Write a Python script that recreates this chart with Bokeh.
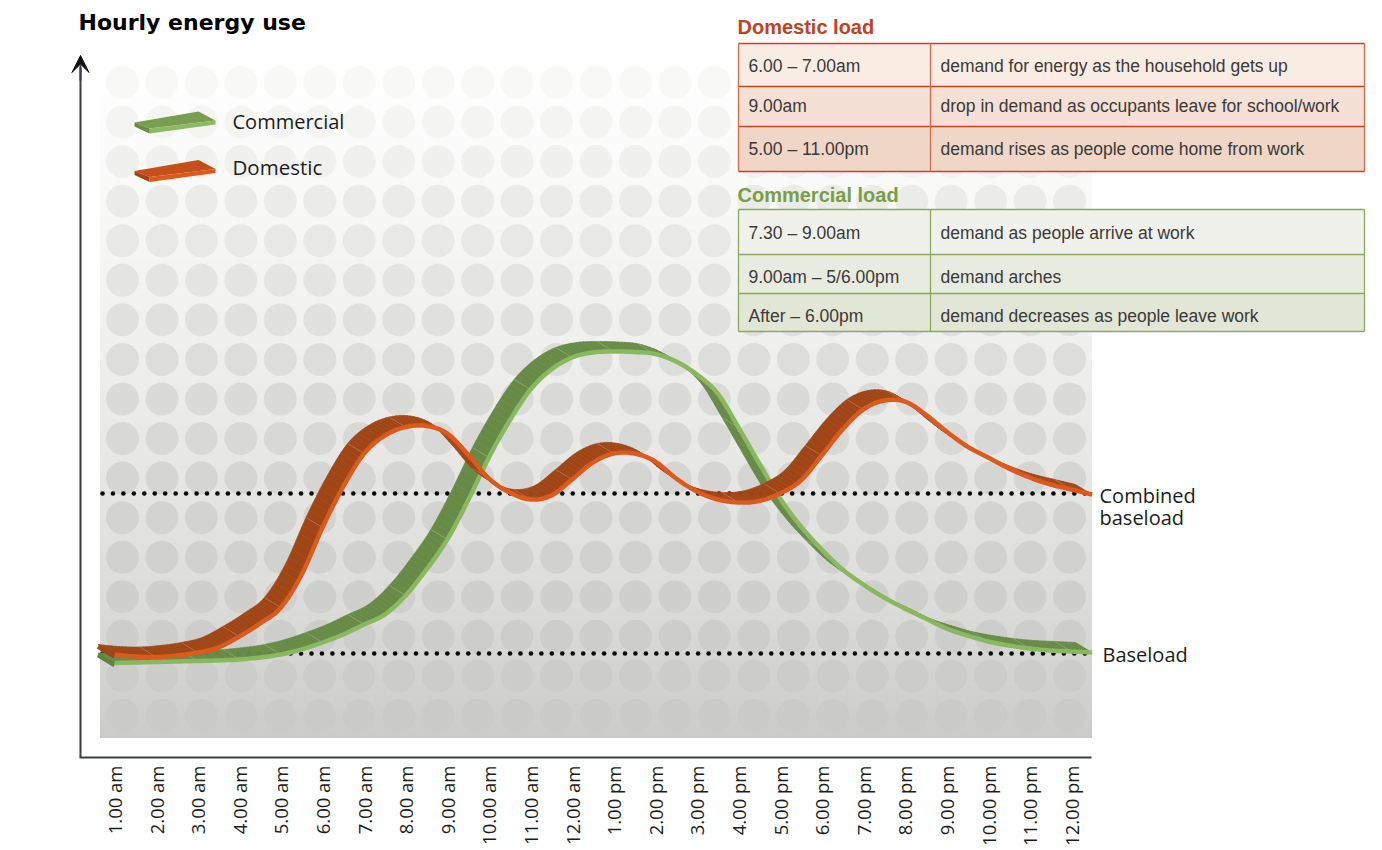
import numpy as np
from bokeh.embed import file_html
from bokeh.models import Arrow, FixedTicker, Label, LinearAxis, Range1d, VeeHead
from bokeh.plotting import figure
from bokeh.resources import INLINE

# Half-hourly samples from 1.00 am through the tail of the day
hours = [1 + 0.5 * i for i in range(48)]
domestic = [103, 101, 100.5, 102, 105, 110, 121, 134, 150, 183,
            230, 271, 304, 322, 330.5, 331.5, 324, 303, 279, 265,
            258, 262, 278, 295, 304, 304, 296, 279, 266, 258,
            255, 256.5, 264, 277, 302, 328, 348, 357, 356, 343,
            326, 311, 300, 289, 280, 273, 268, 263]
commercial = [94.5, 95, 95.5, 96, 96.5, 97, 98, 100, 103, 108,
              115, 123, 133, 143, 162, 188, 218, 257, 300, 337,
              368, 388, 400, 405, 406, 405.5, 403.5, 396, 383, 364,
              330, 294, 259, 231, 208, 188, 173, 160, 149, 139,
              129, 122, 116, 112, 109, 107, 106, 105]
combined_baseload = 264
baseload = 104

tick_hours = list(range(1, 25))
tick_labels = [f"{h}.00 am" for h in range(1, 13)] + [f"{h}.00 pm" for h in range(1, 13)]

domestic_rows = [("6.00 – 7.00am", "demand for energy as the household gets up"),
                 ("9.00am", "drop in demand as occupants leave for school/work"),
                 ("5.00 – 11.00pm", "demand rises as people come home from work")]
commercial_rows = [("7.30 – 9.00am", "demand as people arrive at work"),
                   ("9.00am – 5/6.00pm", "demand arches"),
                   ("After – 6.00pm", "demand decreases as people leave work")]

# Page-pixel helpers for the layout furniture (axis origin at 80, 757)
HOUR_PX = 41.6
X = lambda px: 1 + (np.asarray(px, dtype=float) - 114) / HOUR_PX
Y = lambda py: 757 - np.asarray(py, dtype=float)

p = figure(width=1382, height=850, output_backend="svg", toolbar_location=None,
           x_range=Range1d(float(X(70)), float(X(1382))), y_range=Range1d(0, 757),
           x_axis_type=None, y_axis_type=None,
           min_border_left=70, min_border_bottom=93, min_border_top=0, min_border_right=0)
p.grid.visible = False
p.outline_line_color = None
p.background_fill_color = "white"
p.border_fill_color = "white"

# Axes
x_axis = LinearAxis(ticker=FixedTicker(ticks=tick_hours),
                    major_label_overrides={h: t for h, t in zip(tick_hours, tick_labels)},
                    major_label_orientation=np.pi / 2, major_label_standoff=2,
                    major_label_text_font="Open Sans", major_label_text_font_size="18.5px",
                    major_label_text_color="#1c1c1c",
                    major_tick_line_color=None, minor_tick_line_color=None,
                    axis_line_color="#3a3d42", axis_line_width=2,
                    bounds=(float(X(79)), float(X(1091))))
p.add_layout(x_axis, "below")
y_axis = LinearAxis(ticker=FixedTicker(ticks=[]), fixed_location=float(X(80)),
                    major_tick_line_color=None, minor_tick_line_color=None,
                    major_label_text_font_size="0px",
                    axis_line_color="#3a3d42", axis_line_width=2, bounds=(0, 690))
p.add_layout(y_axis, "left")
p.add_layout(Label(x=float(X(44)), y=float(Y(408)), text="Energy Demand (kWh)", angle=np.pi / 2,
                   text_font="Open Sans", text_font_size="30px", text_color="#1c1c1c",
                   text_align="center", text_baseline="middle"))
p.add_layout(Arrow(x_start=float(X(80)), y_start=float(Y(80)), x_end=float(X(80)), y_end=float(Y(55)),
                   line_color="#3a3d42", line_width=2,
                   end=VeeHead(size=17, fill_color="#111111", line_color="#111111", line_width=1)))

# Shaded backdrop: stacked bands fading from white to grey
stop_py = [70, 210, 340, 500, 600, 690, 737]
stop_bg = [255, 248, 240, 228, 220, 209, 203]
stop_dot = [250, 235, 223, 212, 207, 204, 201]
grey = lambda v: "#%02x%02x%02x" % (int(v), int(v), int(v) - 1 if v < 250 else int(v))
band_top = np.arange(70, 737, 5)
p.quad(left=float(X(100)), right=float(X(1091)), top=Y(band_top), bottom=float(Y(737)),
       fill_color=[grey(np.interp(t, stop_py, stop_bg)) for t in band_top], line_color=None)
dot_x, dot_y = np.meshgrid(122 + 39.46 * np.arange(25), 82 + 39.56 * np.arange(17))
p.scatter(X(dot_x.ravel()), Y(dot_y.ravel()), marker="circle", size=33,
          fill_color=[grey(np.interp(t, stop_py, stop_dot)) for t in dot_y.ravel()], line_color=None)

# Baseload reference rows of dots
dots = X(np.arange(102, 1090, 10.45))
for level in (combined_baseload, baseload):
    p.scatter(dots, level, marker="circle", size=4.6, fill_color="#080808", line_color=None)

# Ribbon series: the top face is the curve swept back along a fixed depth vector
DEPTH_X, DEPTH_Y = -16.5 / HOUR_PX, 10.0
SUBSTEPS = 6


def smooth_path(xs, ys):
    """Catmull-Rom path through the samples, flattened for drawing; it passes through every sample."""
    pts = np.column_stack([xs, ys])
    pad = np.vstack([pts[0], pts, pts[-1]])
    out = []
    for i in range(1, len(pad) - 2):
        p0, p1, p2, p3 = pad[i - 1], pad[i], pad[i + 1], pad[i + 2]
        for t in np.arange(SUBSTEPS) / SUBSTEPS:
            out.append(0.5 * (2 * p1 + (p2 - p0) * t + (2 * p0 - 5 * p1 + 4 * p2 - p3) * t ** 2
                              + (3 * p1 - p0 - 3 * p2 + p3) * t ** 3))
    out.append(pts[-1])
    out = np.array(out)
    return out[:, 0], out[:, 1]


def ribbon(series, face, edge, end_cap):
    xs, ys = smooth_path(np.array(hours), np.array(series, dtype=float))
    bx, by = xs + DEPTH_X, ys + DEPTH_Y
    n = len(xs)
    p.patches([[xs[i], xs[i + 1], bx[i + 1], bx[i]] for i in range(n - 1)],
              [[ys[i], ys[i + 1], by[i + 1], by[i]] for i in range(n - 1)],
              fill_color=face, line_color=face, line_width=0.6)
    seams = range(2 * SUBSTEPS, n - 1, 2 * SUBSTEPS)
    p.multi_line([[xs[i], bx[i]] for i in seams], [[ys[i], by[i]] for i in seams],
                 line_color="white", line_alpha=0.28, line_width=0.7)
    p.line([bx[0], xs[0]], [by[0] - 2, ys[0] - 2], line_color=end_cap, line_width=4.5)
    p.line(xs, ys, line_color=edge, line_width=4.5, line_join="round")


ribbon(commercial, "#688a47", "#8ab85f", "#5f8340")
ribbon(domestic, "#a04515", "#dc5a1b", "#a04515")

# Legend swatches
swatches = [(0, "#7a9e50", "#8cba5e", "#6a8c45"), (48.5, "#c44f18", "#e0591a", "#a84216")]
for dy, top_c, front_c, side_c in swatches:
    p.patch(X([134, 198, 215, 149]), Y(np.array([122, 111, 120, 128]) + dy), fill_color=top_c, line_color=None)
    p.patch(X([149, 215, 215, 149]), Y(np.array([128, 120, 124, 133]) + dy), fill_color=front_c, line_color=None)
    p.patch(X([134, 149, 149, 134]), Y(np.array([122, 128, 133, 126]) + dy), fill_color=side_c, line_color=None)


def text(px, py, s, size, color="#1c1c1c", font="Open Sans", style="normal"):
    p.add_layout(Label(x=float(X(px)), y=float(Y(py)), text=s, text_font=font, text_font_size=size,
                       text_color=color, text_font_style=style, text_baseline="middle", text_align="left"))


text(232, 121, "Commercial", "20px")
text(232, 166, "Domestic", "20.5px")
text(1099, 495, "Combined", "20px")
text(1099, 517, "baseload", "20px")
text(1102, 654, "Baseload", "20px")
text(78, 22, "Hourly energy use", "22px", "#000000", "DejaVu Sans", "bold")


def table(heading, heading_color, heading_py, rows, edges, text_py, fills, rule_color, frame_color):
    text(737, heading_py, heading, "20px", heading_color, "Liberation Sans", "bold")
    for i, (left_cell, right_cell) in enumerate(rows):
        p.quad(left=float(X(738)), right=float(X(1364)), top=float(Y(edges[i])), bottom=float(Y(edges[i + 1])),
               fill_color=fills[i], line_color=None)
        text(748, text_py[i], left_cell, "17.5px", "#3a3a3a", "Liberation Sans")
        text(940, text_py[i], right_cell, "17.5px", "#3a3a3a", "Liberation Sans")
    p.multi_line([[float(X(738)), float(X(1364))] for _ in edges],
                 [[float(Y(e)), float(Y(e))] for e in edges], line_color=rule_color, line_width=1.3)
    p.multi_line([[float(X(c)), float(X(c))] for c in (738, 930, 1364)],
                 [[float(Y(edges[0])), float(Y(edges[-1]))]] * 3, line_color=frame_color, line_width=1.3)


table("Domestic load", "#c0421f", 26, domestic_rows, [43, 86, 126, 171], [65, 105, 148],
      ["#f9ece3", "#f4e0d4", "#f0d6c7"], "#c9431f", "#d4694a")
table("Commercial load", "#7a9e45", 194, commercial_rows, [209, 254, 293, 331], [232, 276, 315],
      ["#f0f1ea", "#e8ebdf", "#e2e6d6"], "#8aa860", "#8aa860")

open("out.html", "w").write(file_html(p, INLINE))
